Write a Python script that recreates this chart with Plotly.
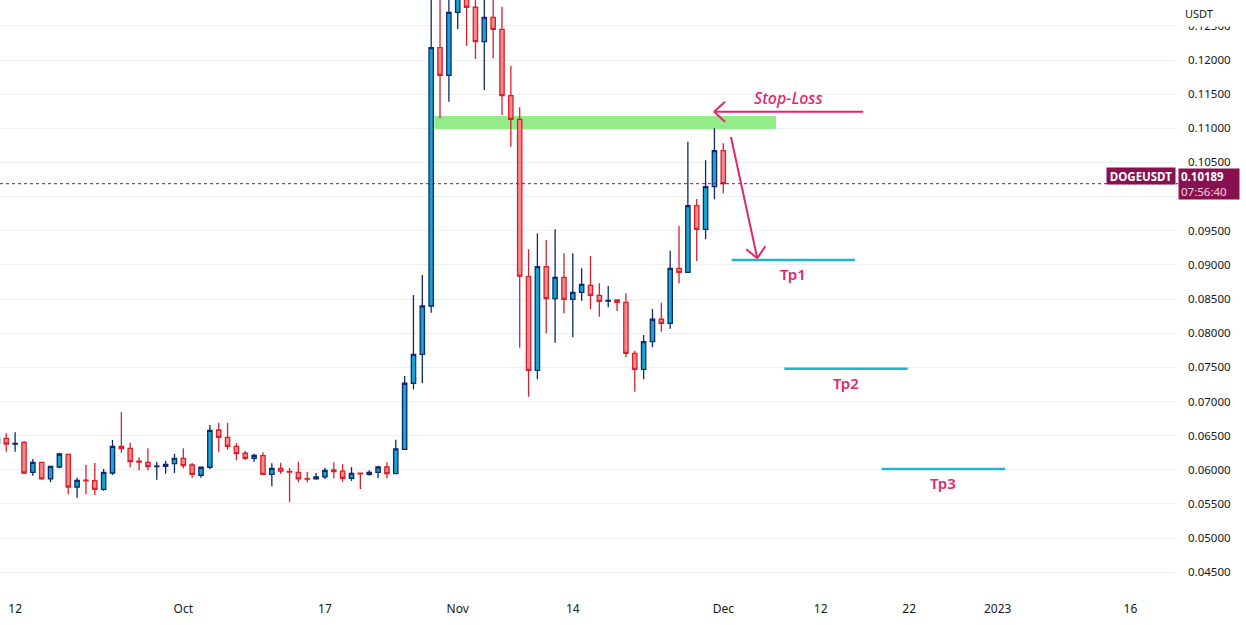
import plotly.graph_objects as go
import pandas as pd

# ---------------- data (daily DOGE/USDT candles) ----------------
dates = pd.date_range("2022-09-10", "2022-12-01", freq="D").strftime("%Y-%m-%d").tolist()

opens = [0.06388, 0.06461, 0.06375, 0.06402, 0.05963, 0.06110, 0.05866, 0.06041, 0.06227, 0.05748,
         0.05850, 0.05841, 0.05714, 0.05953, 0.06344, 0.06315, 0.06125, 0.06110, 0.06045, 0.06051,
         0.06089, 0.06168, 0.06070, 0.05920, 0.06037, 0.06583, 0.06476, 0.06344, 0.06242, 0.06168,
         0.06207, 0.05934, 0.06022, 0.05975, 0.05963, 0.05870, 0.05866, 0.05895, 0.05997, 0.05982,
         0.05876, 0.05950, 0.05934, 0.05963, 0.06041, 0.05943, 0.06300, 0.07267, 0.07691, 0.08398,
         0.12180, 0.11776, 0.12698, 0.13100, 0.12772, 0.12268, 0.12625, 0.12449, 0.11477, 0.11132,
         0.08827, 0.07457, 0.08974, 0.08505, 0.08818, 0.08496, 0.08599, 0.08701, 0.08555, 0.08470,
         0.08486, 0.08452, 0.07706, 0.07471, 0.07876, 0.08204, 0.08145, 0.08950, 0.08892, 0.09867,
         0.09521, 0.10145, 0.10672]
highs = [0.06500, 0.06534, 0.06549, 0.06422, 0.06158, 0.06119, 0.06056, 0.06250, 0.06231, 0.05884,
         0.06070, 0.06100, 0.06012, 0.06436, 0.06842, 0.06392, 0.06183, 0.06315, 0.06119, 0.06129,
         0.06236, 0.06315, 0.06100, 0.06046, 0.06656, 0.06690, 0.06690, 0.06392, 0.06275, 0.06236,
         0.06256, 0.06095, 0.06104, 0.06031, 0.06119, 0.05972, 0.05953, 0.06031, 0.06110, 0.06080,
         0.06041, 0.05960, 0.05993, 0.06060, 0.06110, 0.06441, 0.07373, 0.08559, 0.08852, 0.14600,
         0.13500, 0.13200, 0.15700, 0.13500, 0.13000, 0.13200, 0.12950, 0.12780, 0.11912, 0.11307,
         0.09228, 0.09462, 0.09364, 0.09521, 0.09170, 0.09170, 0.08950, 0.09130, 0.08731, 0.08691,
         0.08496, 0.08584, 0.07744, 0.07974, 0.08354, 0.08447, 0.09208, 0.09570, 0.10804, 0.09965,
         0.10531, 0.11000, 0.10780]
lows = [0.06360, 0.06265, 0.06265, 0.05934, 0.05914, 0.05855, 0.05817, 0.06022, 0.05641, 0.05591,
        0.05641, 0.05631, 0.05694, 0.05924, 0.06250, 0.06037, 0.05993, 0.05993, 0.05855, 0.05943,
        0.05953, 0.06022, 0.05884, 0.05884, 0.06012, 0.06265, 0.06295, 0.06139, 0.06143, 0.06119,
        0.05930, 0.05759, 0.05943, 0.05524, 0.05817, 0.05817, 0.05855, 0.05866, 0.05876, 0.05826,
        0.05836, 0.05719, 0.05914, 0.05876, 0.05876, 0.05940, 0.06290, 0.07179, 0.07267, 0.08300,
        0.11146, 0.11389, 0.12454, 0.12209, 0.12015, 0.11561, 0.12025, 0.11195, 0.10731, 0.07788,
        0.07070, 0.07325, 0.07999, 0.07861, 0.08291, 0.07940, 0.08476, 0.08350, 0.08242, 0.08379,
        0.08325, 0.07647, 0.07144, 0.07325, 0.07794, 0.08022, 0.08066, 0.08731, 0.08880, 0.09057,
        0.09375, 0.09960, 0.10048]
closes = [0.06461, 0.06378, 0.06385, 0.05953, 0.06110, 0.05866, 0.06051, 0.06231, 0.05748, 0.05846,
          0.05840, 0.05714, 0.05963, 0.06344, 0.06309, 0.06119, 0.06112, 0.06046, 0.06055, 0.06080,
          0.06168, 0.06060, 0.05934, 0.06037, 0.06578, 0.06476, 0.06344, 0.06236, 0.06168, 0.06212,
          0.05934, 0.06022, 0.05982, 0.05965, 0.05866, 0.05862, 0.05895, 0.05993, 0.05972, 0.05876,
          0.05949, 0.05940, 0.05963, 0.06041, 0.05943, 0.06305, 0.07267, 0.07691, 0.08398, 0.12180,
          0.11776, 0.12698, 0.13100, 0.12772, 0.12268, 0.12625, 0.12449, 0.11477, 0.11132, 0.08837,
          0.07457, 0.08974, 0.08505, 0.08818, 0.08496, 0.08599, 0.08716, 0.08555, 0.08467, 0.08480,
          0.08452, 0.07706, 0.07471, 0.07876, 0.08204, 0.08145, 0.08950, 0.08892, 0.09867, 0.09521,
          0.10145, 0.10672, 0.10189]

last_price = 0.10189
countdown = "07:56:40"
symbol = "DOGEUSDT"

# x-axis tick labels
x_tickvals = ["2022-09-12", "2022-10-01", "2022-10-17", "2022-11-01", "2022-11-14",
              "2022-12-01", "2022-12-12", "2022-12-22", "2023-01-01", "2023-01-16"]
x_ticktext = ["12", "Oct", "17", "Nov", "14", "Dec", "12", "22", "2023", "16"]

# y-axis ticks (0.10000 is hidden behind the last-price tag)
y_tickvals = [0.045, 0.050, 0.055, 0.060, 0.065, 0.070, 0.075, 0.080, 0.085, 0.090,
              0.095, 0.100, 0.105, 0.110, 0.115, 0.120, 0.125]
y_ticktext = ["" if abs(v - 0.100) < 1e-9 else "%.5f" % v for v in y_tickvals]

# drawings
zone_x = ["2022-10-29 08:40", "2022-12-06 23:00"]
zone_y = [0.10985, 0.11180]

sl_arrow_x = ["2022-12-16 19:40", "2022-11-29 22:50"]   # tail -> tip
sl_arrow_y = [0.11243, 0.11243]
sl_text_pos = ["2022-12-08 10:05", 0.11444]

down_arrow_x = ["2022-12-01 20:52", "2022-12-04 20:10"]  # tail -> tip
down_arrow_y = [0.10873, 0.09097]

tp_names = ["Tp1", "Tp2", "Tp3"]
tp_levels = [0.09072, 0.07480, 0.06012]
tp_start = ["2022-12-01 22:47", "2022-12-07 21:22", "2022-12-18 21:24"]
tp_end = ["2022-12-15 21:06", "2022-12-21 20:00", "2023-01-01 19:40"]

UP_FILL, UP_LINE = "#16a5d3", "#0d2a6b"
DN_FILL, DN_LINE = "#f5888a", "#d9212b"
PINK = "#e0266c"
TEAL = "#1fb6cc"
MAROON = "#891150"
FONT = "Noto Sans"

fig = go.Figure()
fig.add_trace(go.Candlestick(
    x=dates, open=opens, high=highs, low=lows, close=closes,
    increasing=dict(fillcolor=UP_FILL, line=dict(color=UP_LINE, width=1.3)),
    decreasing=dict(fillcolor=DN_FILL, line=dict(color=DN_LINE, width=1.3)),
    whiskerwidth=0, showlegend=False, hoverinfo="skip",
))

shapes = []
# support/resistance zone
shapes.append(dict(type="rect", xref="x", yref="y", x0=zone_x[0], x1=zone_x[1],
                   y0=zone_y[0], y1=zone_y[1], fillcolor="#93ec88", line=dict(width=0),
                   layer="between"))
# last price dotted line
shapes.append(dict(type="line", xref="paper", yref="y", x0=0, x1=1, y0=last_price, y1=last_price,
                   line=dict(color=MAROON, width=1, dash="dot")))
# stop loss arrow
shapes.append(dict(type="line", xref="x", yref="y", x0=sl_arrow_x[0], x1=sl_arrow_x[1],
                   y0=sl_arrow_y[0], y1=sl_arrow_y[1], line=dict(color=PINK, width=2)))
for dx, dy in [(11, 10), (11, -10)]:
    shapes.append(dict(type="line", xsizemode="pixel", ysizemode="pixel", xref="x", yref="y",
                       xanchor=sl_arrow_x[1], yanchor=sl_arrow_y[1], x0=0, y0=0, x1=dx, y1=dy,
                       line=dict(color=PINK, width=2)))
# down arrow
shapes.append(dict(type="line", xref="x", yref="y", x0=down_arrow_x[0], x1=down_arrow_x[1],
                   y0=down_arrow_y[0], y1=down_arrow_y[1], line=dict(color=PINK, width=2)))
for dx, dy in [(-11, 9), (8, 12)]:
    shapes.append(dict(type="line", xsizemode="pixel", ysizemode="pixel", xref="x", yref="y",
                       xanchor=down_arrow_x[1], yanchor=down_arrow_y[1], x0=0, y0=0, x1=dx, y1=dy,
                       line=dict(color=PINK, width=2)))
# take-profit lines
for s, e, lv in zip(tp_start, tp_end, tp_levels):
    shapes.append(dict(type="line", xref="x", yref="y", x0=s, x1=e, y0=lv, y1=lv,
                       line=dict(color=TEAL, width=2.5)))

annotations = []
annotations.append(dict(x=sl_text_pos[0], y=sl_text_pos[1], xref="x", yref="y",
                        text="<i>Stop-Loss</i>", showarrow=False,
                        font=dict(family=FONT, size=16, color=PINK, weight=500)))
for name, s, e, lv in zip(tp_names, tp_start, tp_end, tp_levels):
    mid = pd.Timestamp(s) + (pd.Timestamp(e) - pd.Timestamp(s)) / 2
    annotations.append(dict(x=mid, y=lv, xref="x", yref="y", text=name, showarrow=False,
                            yshift=-14, font=dict(family=FONT, size=15, color=PINK, weight=600)))
# price tag boxes
annotations.append(dict(x=1176 / 1178, y=last_price, xref="paper", yref="y", xanchor="right",
                        yanchor="bottom", yshift=-1, text="<b>%s</b>" % symbol, showarrow=False,
                        bgcolor=MAROON, width=68, height=16, borderpad=0,
                        font=dict(family=FONT, size=11.5, color="white")))
annotations.append(dict(x=1.0, y=last_price, xref="paper", yref="y", xanchor="left",
                        yanchor="middle", showarrow=False, align="left",
                        text="<b>%.5f</b><br><span style='color:#f7d0e1'>%s</span>" % (last_price, countdown),
                        bgcolor=MAROON, width=56, height=26, borderpad=2,
                        font=dict(family=FONT, size=11.5, color="white")))
annotations.append(dict(x=1183 / 1178, y=1, xref="paper", yref="paper", xanchor="left",
                        yanchor="top", text="USDT", showarrow=False, align="left",
                        bgcolor="white", width=60, height=23,
                        font=dict(family=FONT, size=11, color="#131722")))

fig.update_layout(
    width=1246, height=625,
    margin=dict(l=0, r=68, t=0, b=33),
    paper_bgcolor="white", plot_bgcolor="white",
    shapes=shapes, annotations=annotations,
    showlegend=False,
    xaxis=dict(type="date", range=["2022-09-10 06:58", "2023-01-21 08:50"],
               rangeslider=dict(visible=False), showgrid=False, zeroline=False,
               tickvals=x_tickvals, ticktext=x_ticktext, ticks="", ticklabelstandoff=8,
               tickfont=dict(family=FONT, size=12, color="#131722"), showline=False),
    yaxis=dict(side="right", range=[0.042108, 0.128785], tickvals=y_tickvals, ticktext=y_ticktext,
               showgrid=True, gridcolor="#eceff3", gridwidth=1, zeroline=False, ticks="",
               ticklabelstandoff=9, tickfont=dict(family=FONT, size=11.5, color="#131722"),
               showline=False),
)

fig.write_html("out.html")
